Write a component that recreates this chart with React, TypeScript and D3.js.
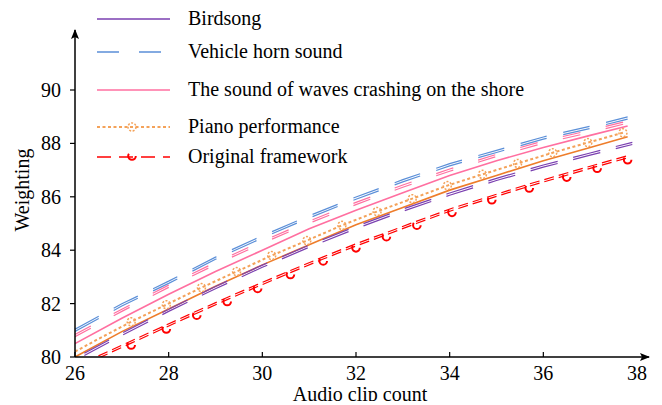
import { useRef, useEffect } from 'react';
import * as d3 from 'd3';

// shared x grid for the plain lines
const xGrid = [26, 27, 28, 29, 30, 31, 32, 33, 34, 35, 36, 37, 37.8];
const hornValues = [81.0, 81.95, 82.8, 83.7, 84.5, 85.25, 85.95, 86.6, 87.2, 87.7, 88.2, 88.6, 88.95];
const wavesValues = [80.5, 81.45, 82.35, 83.2, 84.0, 84.8, 85.5, 86.15, 86.8, 87.35, 87.85, 88.3, 88.65];
const wavesDashValues = [80.8, 81.75, 82.65, 83.5, 84.3, 85.05, 85.75, 86.4, 87.0, 87.55, 88.05, 88.45, 88.8];
const pianoSolidValues = [80.0, 80.95, 81.8, 82.65, 83.45, 84.2, 84.95, 85.6, 86.25, 86.8, 87.35, 87.85, 88.25];

const birdX = [26.2, 27, 28, 29, 30, 31, 32, 33, 34, 35, 36, 37, 37.9];
const birdValues = [80.1, 80.85, 81.75, 82.6, 83.4, 84.15, 84.85, 85.5, 86.1, 86.65, 87.15, 87.6, 88.0];

const pianoX = [26, 26.45, 27.2, 27.95, 28.7, 29.45, 30.2, 30.95, 31.7, 32.45, 33.2, 33.95, 34.7, 35.45, 36.2, 36.95, 37.7];
const pianoValues = [80.2, 80.63, 81.32, 81.96, 82.6, 83.2, 83.8, 84.36, 84.93, 85.45, 85.93, 86.42, 86.84, 87.25, 87.65, 88.03, 88.4];

const origX = [26.5, 27.2, 27.95, 28.6, 29.25, 29.9, 30.6, 31.3, 32.0, 32.65, 33.3, 34.05, 34.9, 35.7, 36.5, 37.15, 37.8];
const origValues = [80.0, 80.56, 81.16, 81.68, 82.19, 82.68, 83.2, 83.71, 84.2, 84.62, 85.05, 85.53, 86.0, 86.44, 86.85, 87.18, 87.5];

const xTicks = [26, 28, 30, 32, 34, 36, 38];
const yTicks = [80, 82, 84, 86, 88, 90];
const legendNames = ['Birdsong', 'Vehicle horn sound', 'The sound of waves crashing on the shore', 'Piano performance', 'Original framework'];

const App = () => {
    const svgRef = useRef(null);

    useEffect(() => {
        const w = 662;
        const h = 405;
        const svg = d3.select(svgRef.current);
        svg.selectAll('*').remove();
        svg.attr('width', w).attr('height', h);

        const font = '"Liberation Serif", "Times New Roman", serif';
        const fs = 20;
        const x = d3.scaleLinear().domain([26, 38]).range([75, 637]);
        const y = d3.scaleLinear().domain([80, 90]).range([357, 90]);

        const defs = svg.append('defs');
        defs.append('clipPath').attr('id', 'plotclip')
            .append('rect').attr('x', 75).attr('y', 30).attr('width', 580).attr('height', 327);
        defs.append('marker').attr('id', 'arrow')
            .attr('viewBox', '0 0 10 10').attr('refX', 9).attr('refY', 5)
            .attr('markerWidth', 10).attr('markerHeight', 10)
            .attr('markerUnits', 'userSpaceOnUse').attr('orient', 'auto')
            .append('path').attr('d', 'M0,1 L10,5 L0,9 L2,5 Z').attr('fill', '#000');

        const plot = svg.append('g').attr('clip-path', 'url(#plotclip)');
        const line = d3.line<[number, number]>().x(d => x(d[0])).y(d => y(d[1]));
        const zip = (xs: number[], ys: number[]) => xs.map((v, i) => [v, ys[i]] as [number, number]);

        // single stroke
        const single = (pts, color, width, dash) => {
            plot.append('path').attr('d', line(pts)).attr('fill', 'none')
                .attr('stroke', color).attr('stroke-width', width)
                .attr('stroke-dasharray', dash);
        };
        // doubled stroke (two thin parallel lines)
        const double = (pts, color, dash) => {
            [-1.1, 1.1].forEach(off => {
                plot.append('path').attr('d', line(pts)).attr('fill', 'none')
                    .attr('transform', `translate(0,${off})`)
                    .attr('stroke', color).attr('stroke-width', 1.2)
                    .attr('stroke-dasharray', dash);
            });
        };

        const cBlue = '#5b8fd8';
        const cPink = '#ff6fa0';
        const cPurple = '#7a3fb0';
        const cOrange = '#ee7d2a';
        const cOrangeLight = '#f4a259';
        const cRed = '#ff0000';

        double(zip(xGrid, hornValues), cBlue, '27,17');
        double(zip(xGrid, wavesDashValues), cPink, '18,26');
        single(zip(xGrid, wavesValues), cPink, 1.6, null);
        single(zip(xGrid, pianoSolidValues), cOrange, 1.6, null);
        double(zip(birdX, birdValues), cPurple, '28,16');
        single(zip(pianoX, pianoValues), cOrangeLight, 2, '3,2.5');
        plot.selectAll('.pm').data(zip(pianoX, pianoValues).slice(2)).enter()
            .append('circle').attr('cx', d => x(d[0])).attr('cy', d => y(d[1])).attr('r', 4)
            .attr('fill', 'none').attr('stroke', cOrangeLight).attr('stroke-width', 1.5)
            .attr('stroke-dasharray', '2,1.5');
        double(zip(origX, origValues), cRed, '10,5');
        plot.selectAll('.om').data(zip(origX, origValues).slice(1)).enter()
            .append('circle').attr('cx', d => x(d[0])).attr('cy', d => y(d[1]) + 3).attr('r', 3.8)
            .attr('fill', 'none').attr('stroke', cRed).attr('stroke-width', 2)
            .attr('stroke-dasharray', '14,10');

        // axes
        svg.append('line').attr('x1', 75).attr('y1', 357).attr('x2', 649).attr('y2', 357)
            .attr('stroke', '#000').attr('stroke-width', 1.5).attr('marker-end', 'url(#arrow)');
        svg.append('line').attr('x1', 75).attr('y1', 357).attr('x2', 75).attr('y2', 30)
            .attr('stroke', '#000').attr('stroke-width', 1.5).attr('marker-end', 'url(#arrow)');

        xTicks.forEach(t => {
            if (t < 38) {
                svg.append('line').attr('x1', x(t)).attr('x2', x(t)).attr('y1', 357).attr('y2', 352)
                    .attr('stroke', '#000').attr('stroke-width', 1.2);
            }
            svg.append('text').attr('x', x(t)).attr('y', 380).attr('text-anchor', 'middle')
                .attr('font-family', font).attr('font-size', fs).text(t);
        });
        yTicks.forEach(t => {
            svg.append('line').attr('x1', 70).attr('x2', 75).attr('y1', y(t)).attr('y2', y(t))
                .attr('stroke', '#000').attr('stroke-width', 1.2);
            svg.append('text').attr('x', 61).attr('y', y(t)).attr('dy', '0.35em').attr('text-anchor', 'end')
                .attr('font-family', font).attr('font-size', fs).text(t);
        });

        svg.append('text').attr('x', 360).attr('y', 401).attr('text-anchor', 'middle')
            .attr('font-family', font).attr('font-size', fs).text('Audio clip count');
        svg.append('text').attr('transform', 'translate(29,190) rotate(-90)').attr('text-anchor', 'middle')
            .attr('font-family', font).attr('font-size', fs).text('Weighting');

        // legend
        const legY = [19, 52, 90, 127, 157];
        const legColors = [cPurple, cBlue, cPink, cOrangeLight, cRed];
        const legDash = [null, '22,20', null, '3,2.5', '14,8'];
        const leg = svg.append('g');
        legendNames.forEach((name, i) => {
            leg.append('line').attr('x1', 97).attr('x2', 170).attr('y1', legY[i]).attr('y2', legY[i])
                .attr('stroke', legColors[i]).attr('stroke-width', i === 3 ? 2 : 1.6)
                .attr('stroke-dasharray', legDash[i]);
            leg.append('text').attr('x', 188).attr('y', legY[i]).attr('dy', '0.32em')
                .attr('font-family', font).attr('font-size', fs).text(name);
        });
        leg.append('circle').attr('cx', 132).attr('cy', 127).attr('r', 4).attr('fill', 'none')
            .attr('stroke', cOrangeLight).attr('stroke-width', 1.5).attr('stroke-dasharray', '2,1.5');
        leg.append('circle').attr('cx', 132).attr('cy', 156).attr('r', 3.8).attr('fill', 'none')
            .attr('stroke', cRed).attr('stroke-width', 2).attr('stroke-dasharray', '14,10');
    }, []);

    return (
        <div style={{ margin: -8 }}>
            <svg ref={svgRef}></svg>
        </div>
    );
};

export default App;
